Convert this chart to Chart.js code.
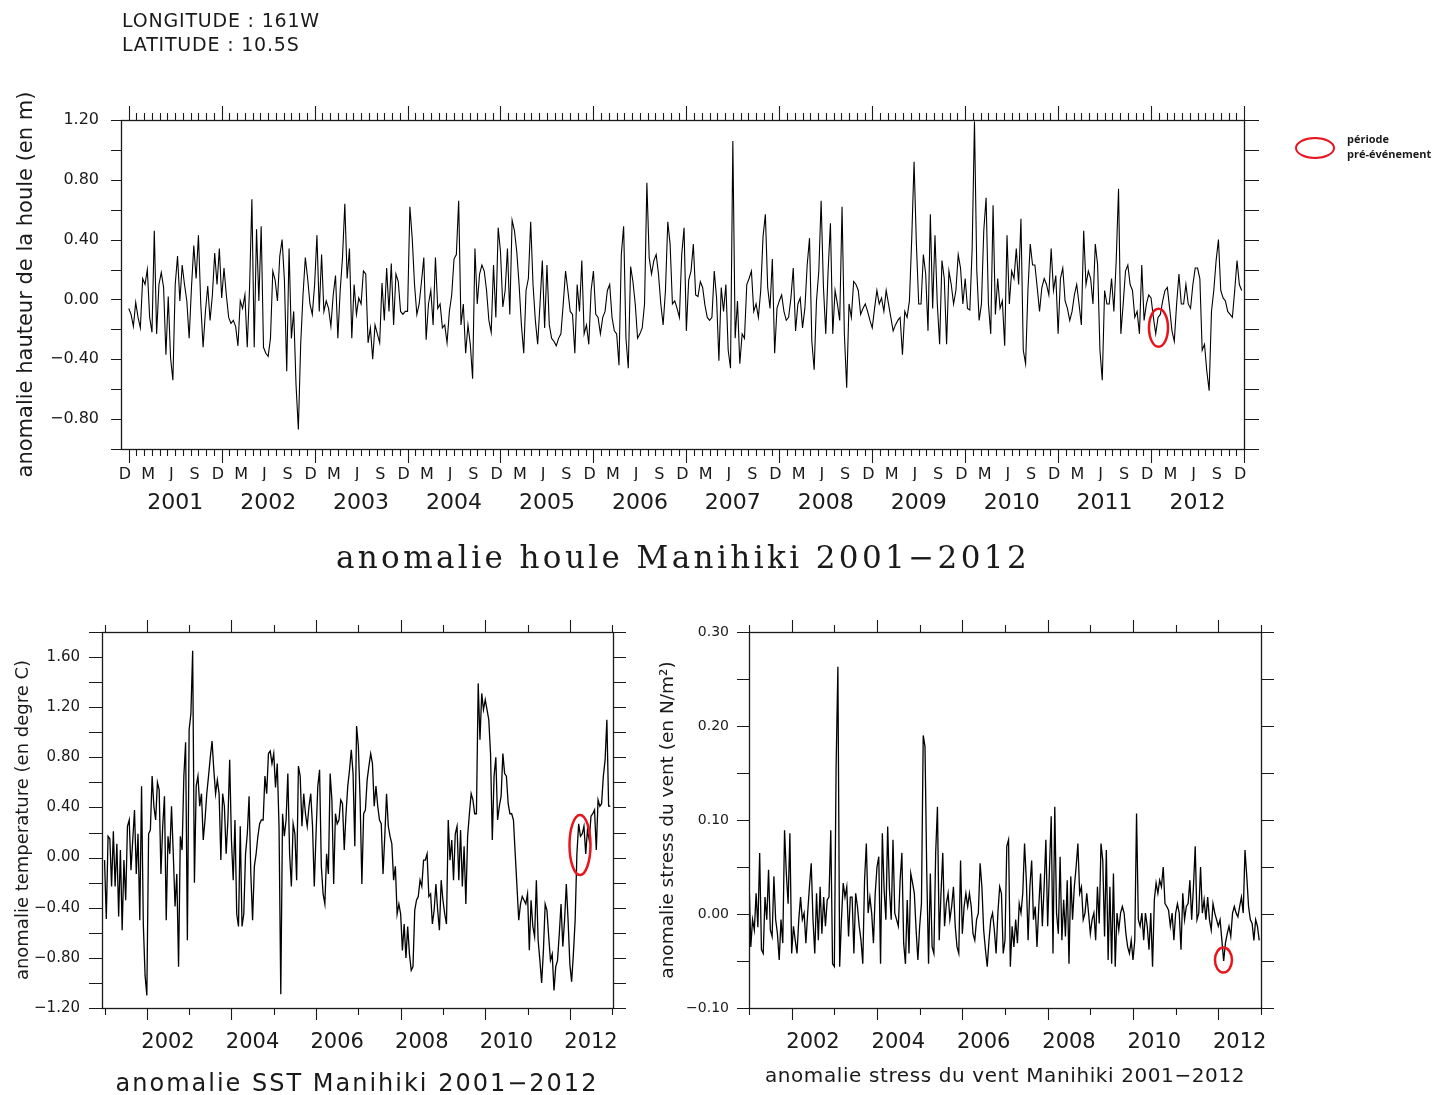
<!DOCTYPE html>
<html lang="fr">
<head>
<meta charset="utf-8">
<title>anomalie houle / SST / stress du vent - Manihiki 2001-2012</title>
<script src="https://cdn.jsdelivr.net/npm/chart.js@4.4.0/dist/chart.umd.min.js"></script>
<style>
  html, body { margin: 0; padding: 0; background: #fff; }
  #page { position: relative; width: 1437px; height: 1095px; overflow: hidden; color: #1a1a1a; font-family: "DejaVu Sans", sans-serif; }
  #page canvas { position: absolute; left: 0; top: 0; }
  .txt { position: absolute; white-space: nowrap; }
  #lon, #lat { left: 122px; font-size: 19px; line-height: 22px; letter-spacing: 0.8px; }
  #lon { top: 9px; }
  #lat { top: 33px; }
  #titleHoule { left: 283px; width: 800px; top: 539px; text-align: center; font-family: "DejaVu Serif", serif; font-size: 31px; line-height: 36px; letter-spacing: 3.4px; }
  #titleSst { left: 57px; width: 600px; top: 1069px; text-align: center; font-size: 24px; line-height: 28px; letter-spacing: 2px; }
  #titleVent { left: 705px; width: 600px; top: 1063px; text-align: center; font-size: 20px; line-height: 24px; letter-spacing: 0.6px; }
  #legRing { position: absolute; left: 1295px; top: 137px; width: 36px; height: 18px; border: 2.5px solid #e8141c; border-radius: 50%; }
  .leg { left: 1347px; font-family: "Open Sans", sans-serif; font-weight: bold; font-size: 11px; line-height: 14px; }
  #leg1 { top: 132px; }
  #leg2 { top: 147px; }
</style>
</head>
<body>
<div id="page">
  <canvas id="cHoule" width="1437" height="1095"></canvas>
  <canvas id="cSst" width="1437" height="1095"></canvas>
  <canvas id="cVent" width="1437" height="1095"></canvas>

  <div class="txt" id="lon">LONGITUDE : 161W</div>
  <div class="txt" id="lat">LATITUDE : 10.5S</div>
  <div class="txt" id="titleHoule">anomalie houle Manihiki 2001&#8722;2012</div>
  <div class="txt" id="titleSst">anomalie SST Manihiki 2001&#8722;2012</div>
  <div class="txt" id="titleVent">anomalie stress du vent Manihiki 2001&#8722;2012</div>
  <div id="legRing"></div>
  <div class="txt leg" id="leg1">période</div>
  <div class="txt leg" id="leg2">pré-événement</div>
</div>

<script>
// ---- donnees ----
// anomalie houle (m), 40 valeurs par an, une ligne par annee 2001..2012
var houleValues = [
  [-0.06,-0.10,-0.18,-0.02,-0.12,-0.19,0.14,0.10,0.20,-0.12,-0.22,0.46,-0.23,0.10,0.18,0.08,-0.37,0.02,-0.39,-0.54,0.10,0.29,-0.01,0.23,0.10,-0.01,-0.26,0.08,0.36,0.14,0.43,-0.03,-0.32,-0.08,0.09,-0.14,0.03,0.31,0.10,0.34],
  [0.01,0.21,0.03,-0.12,-0.16,-0.14,-0.18,-0.31,-0.01,-0.06,0.03,-0.32,0.08,0.67,-0.32,0.47,-0.01,0.49,-0.32,-0.36,-0.38,-0.26,0.19,0.13,-0.01,0.29,0.40,0.13,-0.48,0.34,-0.26,-0.08,-0.57,-0.87,-0.30,0.03,0.28,0.14,-0.03,-0.10],
  [0.10,0.43,-0.08,0.30,-0.08,-0.01,-0.06,-0.18,0.03,0.16,-0.26,0.06,0.28,0.64,0.14,0.34,-0.26,0.10,-0.10,0.01,-0.03,0.19,0.17,-0.29,-0.19,-0.40,-0.17,-0.23,-0.29,0.11,-0.14,0.21,-0.08,0.24,-0.17,0.17,0.12,-0.08,-0.10,-0.08],
  [-0.08,0.62,0.41,0.10,-0.10,-0.03,0.12,0.28,-0.27,-0.03,0.06,-0.17,0.28,-0.06,-0.03,-0.19,-0.17,-0.29,-0.08,0.03,0.27,0.30,0.66,-0.17,-0.03,-0.36,-0.17,-0.30,-0.53,0.34,-0.03,0.17,0.23,0.19,0.06,-0.14,-0.22,0.23,-0.12,0.48],
  [0.32,-0.05,0.06,0.34,-0.10,0.53,0.46,0.32,0.10,-0.17,-0.36,0.06,0.14,0.52,0.10,-0.14,-0.30,-0.03,0.26,-0.19,0.23,-0.17,-0.26,-0.28,-0.31,-0.26,-0.23,-0.03,0.19,0.06,-0.08,-0.10,-0.36,0.10,-0.08,0.26,-0.23,-0.17,-0.30,0.06],
  [0.19,-0.10,-0.12,-0.23,-0.12,-0.08,0.06,0.10,-0.12,-0.21,-0.23,-0.44,0.30,0.49,-0.26,-0.46,0.22,0.12,-0.03,-0.26,-0.23,-0.19,-0.03,0.78,0.28,0.17,0.26,0.30,0.17,-0.03,-0.17,0.06,0.52,0.37,-0.03,-0.01,-0.06,-0.12,0.30,0.48],
  [-0.21,0.13,0.19,0.37,0.03,0.02,0.12,0.08,-0.04,-0.12,-0.14,-0.12,0.19,0.01,-0.41,0.08,-0.08,0.10,-0.34,-0.46,1.06,-0.26,-0.01,-0.43,-0.23,-0.26,0.10,0.14,0.19,-0.08,-0.03,-0.12,0.06,0.42,0.57,0.08,-0.06,0.27,-0.36,-0.06],
  [-0.01,0.03,-0.08,-0.14,-0.12,0.01,0.21,-0.21,-0.03,0.01,-0.19,-0.06,0.23,0.41,-0.28,-0.47,-0.01,0.19,0.66,0.08,-0.23,0.19,0.51,-0.23,0.06,-0.03,-0.14,0.62,-0.23,-0.59,-0.03,-0.12,0.12,0.10,0.06,-0.10,-0.06,-0.03,-0.08,-0.14],
  [-0.19,-0.06,0.06,-0.03,0.01,-0.08,0.06,-0.03,-0.12,-0.21,-0.17,-0.14,-0.12,-0.37,-0.08,-0.12,-0.01,0.41,0.92,0.37,-0.03,-0.03,0.30,0.17,-0.21,0.57,-0.06,0.43,-0.03,-0.30,0.26,0.14,-0.30,0.19,0.10,-0.03,0.06,0.30,0.21,-0.03],
  [0.14,-0.06,-0.07,0.34,1.19,0.19,-0.14,-0.03,0.46,0.68,-0.03,-0.23,0.63,-0.10,0.14,-0.06,-0.01,-0.31,0.43,-0.03,0.19,0.14,0.34,0.10,0.54,-0.34,-0.43,0.06,0.37,0.23,0.23,0.08,-0.08,0.08,0.14,0.10,0.03,0.34,0.06,0.16],
  [-0.23,0.14,0.21,-0.01,-0.06,-0.14,-0.08,0.03,0.10,-0.03,-0.17,0.46,0.10,0.19,0.14,-0.03,0.37,0.23,-0.34,-0.54,0.06,-0.03,-0.03,0.14,-0.08,0.26,0.74,-0.23,-0.03,0.19,0.23,0.10,0.06,-0.12,-0.08,-0.23,0.23,-0.14,-0.03,0.03],
  [0.01,-0.12,-0.23,-0.12,-0.10,-0.01,0.06,0.08,-0.06,-0.21,-0.28,-0.03,0.17,-0.03,-0.03,0.10,-0.03,-0.06,0.10,0.21,0.21,0.14,-0.34,-0.30,-0.48,-0.61,-0.08,0.06,0.26,0.40,0.06,0.01,-0.01,-0.08,-0.10,-0.12,0.06,0.26,0.10,0.06]
];

// anomalie SST (degre C), 24 valeurs par an
var sstValues = [
  [-0.02,-0.49,0.17,0.15,-0.23,0.21,-0.23,0.11,-0.47,0.06,-0.58,-0.02,-0.34,0.25,0.30,-0.10,0.14,0.38,-0.13,0.19,-0.50,0.57,-0.53,-0.94],
  [-1.10,0.19,0.22,0.65,0.41,0.30,0.60,0.54,-0.13,0.25,0.49,-0.50,0.17,0.03,0.41,0.03,-0.39,-0.13,-0.87,0.17,0.06,0.65,0.92,-0.66],
  [1.02,1.15,1.65,-0.20,0.57,0.65,0.41,0.51,0.14,0.30,0.51,0.65,0.80,0.93,0.70,0.51,0.62,0.51,-0.02,0.51,0.41,0.03,0.30,0.78],
  [0.14,-0.18,0.30,-0.45,-0.55,0.25,-0.55,-0.45,0.03,0.19,0.49,-0.13,-0.50,-0.07,0.03,0.17,0.27,0.30,0.30,0.65,0.51,0.83,0.85,0.75],
  [0.83,0.56,0.75,0.25,-1.09,0.35,0.17,0.30,0.67,0.03,-0.23,0.27,0.19,-0.18,0.73,0.65,0.25,0.51,0.35,0.25,0.41,0.51,0.25,-0.23],
  [0.19,0.57,0.70,-0.07,-0.29,-0.37,0.03,-0.13,0.67,0.46,-0.21,0.35,0.27,0.30,0.46,0.43,0.06,0.35,0.57,0.70,0.86,0.67,0.09,1.05],
  [0.89,0.46,-0.21,0.35,0.38,0.62,0.73,0.83,0.75,0.41,0.57,0.41,0.30,0.27,-0.13,0.17,0.51,0.25,0.17,0.11,-0.18,-0.07,-0.45,-0.37],
  [-0.45,-0.74,-0.53,-0.80,-0.55,-0.77,-0.90,-0.87,-0.42,-0.34,-0.31,-0.18,-0.23,-0.02,-0.02,0.03,-0.31,-0.29,-0.53,-0.42,-0.21,-0.42,-0.58,-0.18],
  [-0.34,-0.45,-0.53,0.30,-0.02,0.14,-0.18,0.19,0.25,-0.18,0.22,-0.23,0.09,-0.37,0.17,0.35,0.51,0.46,0.35,0.35,1.39,0.94,1.31,1.18],
  [1.26,1.18,1.10,0.83,0.14,0.65,0.80,0.30,0.41,0.49,0.83,0.67,0.65,0.43,0.35,0.35,0.30,0.03,-0.23,-0.50,-0.37,-0.31,-0.34,-0.37],
  [-0.29,-0.74,-0.34,-0.55,-0.63,-0.18,-0.66,-0.82,-1.00,-0.74,-0.37,-0.42,-0.63,-0.82,-0.77,-1.06,-0.87,-0.82,-0.61,-0.37,-0.71,-0.50,-0.21,-0.50],
  [-0.85,-0.99,-0.77,-0.50,0.03,0.27,0.17,0.19,0.25,0.03,0.22,0.14,0.33,0.35,0.38,0.06,0.46,0.41,0.43,0.65,0.78,1.10,0.41,0.41]
];

// anomalie stress du vent (N/m2), 24 valeurs par an
var ventValues = [
  [0.040,-0.035,-0.006,-0.017,0.022,-0.014,0.065,-0.038,-0.042,0.018,-0.006,0.047,-0.017,-0.024,0.040,-0.006,-0.021,-0.049,-0.006,-0.031,0.089,0.043,0.011,0.086],
  [-0.042,-0.013,-0.028,-0.042,-0.006,0.018,-0.006,0.001,-0.031,0.001,0.029,0.054,-0.006,-0.042,0.022,-0.028,0.029,-0.021,0.018,-0.013,0.015,0.018,0.089,-0.053],
  [-0.056,0.157,0.263,-0.056,-0.006,0.033,0.018,0.029,-0.024,0.018,0.018,-0.042,0.022,0.008,-0.013,-0.028,-0.053,0.036,0.075,0.001,0.018,0.001,-0.031,0.022],
  [0.050,0.061,-0.053,0.086,0.026,-0.006,0.093,0.026,-0.006,0.079,0.001,-0.006,-0.013,0.036,0.065,-0.031,-0.053,0.015,-0.042,0.043,0.033,0.022,-0.017,-0.049],
  [-0.013,0.011,0.190,0.178,0.043,-0.053,0.043,-0.035,-0.042,0.065,0.114,-0.028,0.022,0.065,-0.013,0.011,0.022,-0.006,0.008,0.029,-0.013,-0.035,-0.042,0.057],
  [-0.021,0.008,0.022,0.008,0.022,0.008,-0.021,-0.028,-0.006,0.001,0.054,0.029,-0.017,-0.038,-0.056,-0.028,-0.006,0.001,-0.017,-0.042,0.001,0.029,0.022,-0.042],
  [-0.028,0.072,0.079,-0.056,-0.013,-0.035,-0.006,-0.031,0.011,0.001,0.022,0.075,0.036,-0.028,0.029,0.057,-0.006,0.008,-0.035,0.008,0.043,-0.013,0.029,0.079],
  [-0.013,0.047,0.104,-0.042,0.114,0.001,-0.021,0.061,-0.028,0.015,-0.024,0.036,-0.053,0.040,-0.006,0.029,0.050,0.075,0.022,0.029,-0.006,0.001,0.022,0.001],
  [-0.021,-0.006,0.001,-0.028,0.029,-0.010,0.075,0.057,-0.024,0.068,-0.049,0.029,-0.053,0.043,-0.056,0.001,-0.017,0.001,0.008,0.001,-0.021,-0.035,-0.042,-0.028],
  [-0.049,-0.028,0.107,-0.006,-0.013,0.001,-0.028,0.001,-0.013,-0.038,0.001,-0.056,0.015,0.033,0.022,0.036,0.029,0.050,0.011,0.008,0.004,-0.013,0.001,-0.028],
  [0.001,0.011,0.001,-0.038,0.022,-0.006,0.008,0.011,0.036,-0.006,0.029,0.072,-0.006,0.001,0.050,0.001,0.015,-0.006,0.018,-0.006,-0.017,0.011,0.001,-0.006],
  [-0.013,-0.006,-0.028,-0.050,-0.031,-0.021,-0.013,-0.024,0.001,0.008,0.001,-0.003,0.008,0.018,0.001,0.068,0.040,0.008,-0.006,-0.010,-0.028,-0.006,-0.013,-0.028]
];

var firstYear = 2001;
var monthLetters = ['D', 'M', 'J', 'S'];            // dec, mars, juin, sept
var houleYLabels = [-0.8, -0.4, 0, 0.4, 0.8, 1.2];
var sstYLabels = [-1.2, -0.8, -0.4, 0, 0.4, 0.8, 1.2, 1.6];
var ventYLabels = [-0.1, 0, 0.1, 0.2, 0.3];
var evenYears = [2002, 2004, 2006, 2008, 2010, 2012];

// periode pre-evenement (centre de l'ellipse rouge : annee, valeur)
var houleMarker = [2012.08, -0.19];
var sstMarker = [2012.24, 0.10];
var ventMarker = [2012.12, -0.049];

// ---- helpers ----
var INK = '#1a1a1a';
Chart.defaults.font.family = "'DejaVu Sans', sans-serif";
Chart.defaults.color = INK;

function toPoints(rows, perYear) {
  var pts = [];
  rows.forEach(function (row, r) {
    row.forEach(function (v, k) {
      pts.push({ x: firstYear + r + k / perYear, y: v });
    });
  });
  return pts;
}

function fmt(v) {
  var s = Math.abs(v).toFixed(2);
  return (v < -1e-9 ? '\u2212' : '') + s;
}

function setTicks(values) {
  return function (s) { s.ticks = values.map(function (v) { return { value: v }; }); };
}

function range(a, b, step) {
  var out = [];
  for (var v = a; v <= b + step / 1000; v += step) out.push(Math.round(v * 1000) / 1000);
  return out;
}

// cadre + petites graduations sur les 4 cotes + ellipse rouge
function makeFrame(cfg) {
  return {
    id: 'frame',
    afterDatasetsDraw: function (chart) {
      var ctx = chart.ctx, a = chart.chartArea;
      var xs = chart.scales.x, ys = chart.scales.y;
      ctx.save();
      ctx.strokeStyle = INK;
      ctx.lineWidth = 1.3;
      ctx.strokeRect(Math.round(a.left) + 0.5, Math.round(a.top) + 0.5,
        Math.round(a.right - a.left), Math.round(a.bottom - a.top));
      ctx.lineWidth = 1.1;
      ctx.beginPath();
      cfg.xTicks.forEach(function (t) {
        t.values.forEach(function (v) {
          var px = Math.round(xs.getPixelForValue(v)) + 0.5;
          ctx.moveTo(px, a.top); ctx.lineTo(px, a.top - t.len);
          ctx.moveTo(px, a.bottom); ctx.lineTo(px, a.bottom + t.len);
        });
      });
      cfg.yTicks.values.forEach(function (v) {
        var py = Math.round(ys.getPixelForValue(v)) + 0.5;
        ctx.moveTo(a.left, py); ctx.lineTo(a.left - cfg.yTicks.left, py);
        ctx.moveTo(a.right, py); ctx.lineTo(a.right + cfg.yTicks.right, py);
      });
      ctx.stroke();
      if (cfg.marker) {
        ctx.strokeStyle = '#e8141c';
        ctx.lineWidth = 2.5;
        ctx.beginPath();
        ctx.ellipse(xs.getPixelForValue(cfg.marker[0]), ys.getPixelForValue(cfg.marker[1]),
          cfg.rx, cfg.ry, 0, 0, Math.PI * 2);
        ctx.stroke();
      }
      ctx.restore();
    }
  };
}

function lineDataset(points, width) {
  return {
    data: points,
    borderColor: '#000',
    borderWidth: width,
    pointRadius: 0,
    tension: 0,
    fill: false
  };
}

var common = {
  responsive: false,
  animation: false,
  events: [],
  plugins: { legend: { display: false }, tooltip: { enabled: false } }
};

// ---- houle ----
var houleMin = 2000 + 11 / 12;
var monthLabelPos = [];
for (var y = 2000; y <= 2012; y++) {
  [2, 5, 8, 11].forEach(function (m) {
    var v = y + (m + 0.5) / 12;
    if (v > houleMin && v < 2013) monthLabelPos.push(v);
  });
}
var monthStarts = [];
for (var y2 = 2001; y2 <= 2012; y2++) {
  for (var m = 1; m < 12; m++) monthStarts.push(y2 + m / 12);
}
var yearStarts = range(2001, 2013, 1);

new Chart(document.getElementById('cHoule'), {
  type: 'line',
  data: { datasets: [lineDataset(toPoints(houleValues, 40), 1.1)] },
  options: Object.assign({}, common, {
    layout: { padding: { left: 0, top: 120, right: 193, bottom: 566 } },
    scales: {
      x: {
        type: 'linear', position: 'bottom', weight: 0, min: houleMin, max: 2013,
        afterBuildTicks: setTicks(monthLabelPos),
        afterFit: function (s) { s.height = 32; },
        grid: { display: false }, border: { display: false },
        ticks: {
          autoSkip: false, maxRotation: 0, padding: 8, font: { size: 16 },
          callback: function (v, i) { return monthLetters[i % 4]; }
        }
      },
      xYear: {
        type: 'linear', position: 'bottom', weight: 1, min: houleMin, max: 2013,
        afterBuildTicks: setTicks(range(2001.5, 2012.5, 1)),
        afterFit: function (s) { s.height = 48; },
        grid: { display: false }, border: { display: false },
        ticks: {
          autoSkip: false, maxRotation: 0, padding: 1, font: { size: 22 },
          callback: function (v) { return String(Math.floor(v)); }
        }
      },
      y: {
        type: 'linear', min: -1.0, max: 1.2,
        afterBuildTicks: setTicks(houleYLabels),
        afterFit: function (s) { s.width = 121; },
        grid: { display: false }, border: { display: false },
        ticks: { padding: 14, font: { size: 16 }, callback: fmt },
        title: {
          display: true, text: 'anomalie hauteur de la houle (en m)',
          font: { size: 21 }, padding: { top: 14, bottom: 0 }
        }
      }
    }
  }),
  plugins: [makeFrame({
    xTicks: [{ values: monthStarts, len: 7 }, { values: yearStarts, len: 14 }],
    yTicks: { values: range(-1.0, 1.2, 0.2), left: 10, right: 15 },
    marker: houleMarker, rx: 9.5, ry: 19
  })]
});

// ---- SST et vent ----
var oddYears = [2001, 2003, 2005, 2007, 2009, 2011, 2013];
var evenYearStarts = [2002, 2004, 2006, 2008, 2010, 2012];

function yearAxis(min, max) {
  return {
    type: 'linear', position: 'bottom', min: min, max: max,
    afterBuildTicks: setTicks(evenYears.map(function (v) { return v + 0.5; })),
    afterFit: function (s) { s.height = 55; },
    grid: { display: false }, border: { display: false },
    ticks: {
      autoSkip: false, maxRotation: 0, padding: 14, font: { size: 21 },
      callback: function (v) { return String(Math.floor(v)); }
    }
  };
}

new Chart(document.getElementById('cSst'), {
  type: 'line',
  data: { datasets: [lineDataset(toPoints(sstValues, 24), 1.3)] },
  options: Object.assign({}, common, {
    layout: { padding: { left: 0, top: 632, right: 824, bottom: 32 } },
    scales: {
      x: yearAxis(2000.94, 2013.02),
      y: {
        type: 'linear', min: -1.2, max: 1.8,
        afterBuildTicks: setTicks(sstYLabels),
        afterFit: function (s) { s.width = 102; },
        grid: { display: false }, border: { display: false },
        ticks: { padding: 14, font: { size: 15 }, callback: fmt },
        title: {
          display: true, text: 'anomalie temperature (en degre C)',
          font: { size: 18 }, padding: { top: 13, bottom: 0 }
        }
      }
    }
  }),
  plugins: [makeFrame({
    xTicks: [{ values: oddYears, len: 7 }, { values: evenYearStarts, len: 12 }],
    yTicks: { values: range(-1.2, 1.8, 0.2), left: 13, right: 13 },
    marker: sstMarker, rx: 10.5, ry: 30
  })]
});

new Chart(document.getElementById('cVent'), {
  type: 'line',
  data: { datasets: [lineDataset(toPoints(ventValues, 24), 1.3)] },
  options: Object.assign({}, common, {
    layout: { padding: { left: 640, top: 632, right: 176, bottom: 32 } },
    scales: {
      x: yearAxis(2001, 2013),
      y: {
        type: 'linear', min: -0.1, max: 0.3,
        afterBuildTicks: setTicks(ventYLabels),
        afterFit: function (s) { s.width = 109; },
        grid: { display: false }, border: { display: false },
        ticks: { padding: 12, font: { size: 14 }, callback: fmt },
        title: {
          display: true, text: 'anomalie stress du vent (en N/m\u00b2)',
          font: { size: 18.5 }, padding: { top: 17, bottom: 0 }
        }
      }
    }
  }),
  plugins: [makeFrame({
    xTicks: [{ values: oddYears, len: 7 }, { values: evenYearStarts, len: 12 }],
    yTicks: { values: range(-0.1, 0.3, 0.05), left: 12, right: 13 },
    marker: ventMarker, rx: 8.5, ry: 12.5
  })]
});
</script>
</body>
</html>
